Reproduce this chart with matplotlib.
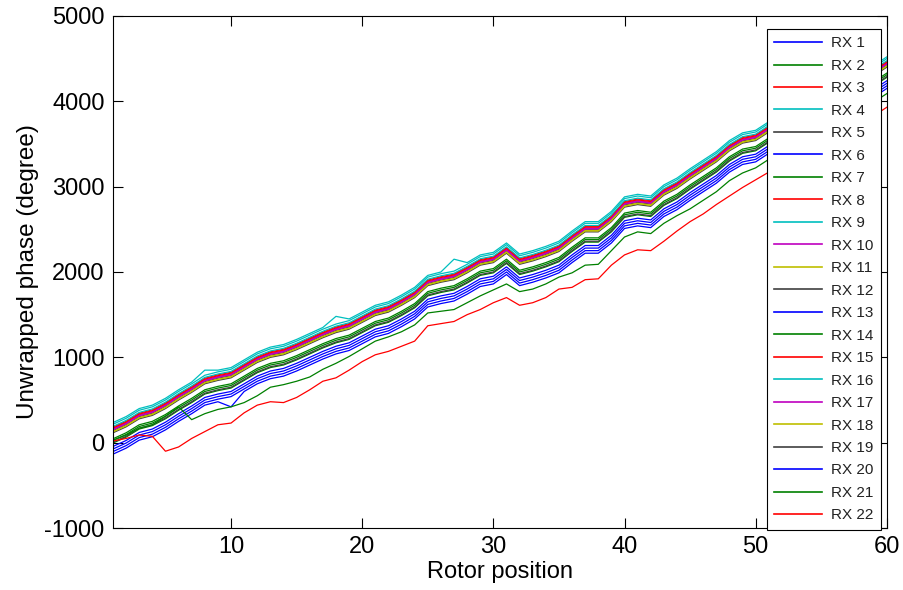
import matplotlib.pyplot as plt
import numpy as np

plt.rcParams['font.family'] = ['Liberation Sans', 'DejaVu Sans']
plt.rcParams['axes.unicode_minus'] = False

positions = np.arange(1, 61)

# upper band of the bundle (most receivers sit around it)
band = [176, 246, 340, 380, 460, 560, 650, 750, 790, 820,
        910, 1000, 1060, 1090, 1150, 1220, 1290, 1350, 1390, 1470,
        1550, 1590, 1670, 1760, 1900, 1940, 1970, 2050, 2140, 2170,
        2280, 2150, 2190, 2240, 2300, 2420, 2530, 2530, 2650, 2820,
        2850, 2830, 2960, 3040, 3150, 3250, 3350, 3480, 3570, 3600,
        3700, 3780, 3850, 3930, 4010, 4090, 4180, 4260, 4360, 4460]

# RX 21 and RX 22 run separately below the bundle
rx21 = [30, 90, 170, 210, 310, 420, 270, 340, 390, 420,
        470, 550, 650, 680, 720, 770, 860, 930, 1010, 1100,
        1190, 1240, 1300, 1380, 1520, 1540, 1560, 1640, 1720, 1790,
        1860, 1770, 1800, 1860, 1940, 1990, 2080, 2090, 2250, 2410,
        2470, 2450, 2570, 2660, 2740, 2840, 2940, 3070, 3160, 3220,
        3320, 3400, 3480, 3560, 3640, 3720, 3810, 3900, 3990, 4090]
rx22 = [20, 50, 90, 75, -100, -50, 50, 130, 210, 230,
        350, 440, 480, 470, 530, 620, 720, 760, 850, 950,
        1030, 1070, 1130, 1190, 1370, 1395, 1420, 1500, 1560, 1640,
        1700, 1610, 1640, 1700, 1800, 1820, 1910, 1920, 2080, 2200,
        2260, 2250, 2360, 2480, 2590, 2680, 2790, 2890, 2990, 3080,
        3170, 3250, 3330, 3410, 3490, 3570, 3660, 3740, 3830, 3930]

# shift of RX 1 .. RX 20 relative to the band
offsets = [-250, -130, -15, 40, -35, -310, -180, 5, 15, -25,
           -45, -60, -220, -150, -5, 60, -20, -50, -170, -280]
# (receiver, rotor position, extra shift)
bumps = [(6, 10, -90), (16, 8, 40), (16, 18, 70), (16, 27, 120)]

labels = ['RX %d' % (i + 1) for i in range(22)]

b = (0, 0, 1)
g = (0, 0.5, 0)
r = (1, 0, 0)
c = (0, 0.75, 0.75)
m = (0.75, 0, 0.75)
y = (0.75, 0.75, 0)
k = (0.25, 0.25, 0.25)
colors = [b, g, r, c, k, b, g, r, c, m, y, k, b, g, r, c, m, y, k, b, g, r]

series = []
for i, off in enumerate(offsets):
    vals = np.array(band, dtype=float) + off
    for rx, pos, d in bumps:
        if rx == i + 1:
            vals[pos - 1] += d
    series.append(vals)
series.append(np.array(rx21, dtype=float))
series.append(np.array(rx22, dtype=float))

fig = plt.figure(figsize=(9.04, 5.9), dpi=100)
ax = fig.add_axes([0.125, 0.105, 0.856, 0.868])

for vals, col, lab in zip(series, colors, labels):
    ax.plot(positions, vals, color=col, lw=0.9, label=lab)

ax.set_xlim(1, 60)
ax.set_ylim(-1000, 5000)
ax.set_xticks([10, 20, 30, 40, 50, 60])
ax.set_yticks(np.arange(-1000, 5001, 1000))
ax.tick_params(direction='in', length=7, width=0.8, top=True, right=True,
               labelsize=17, pad=6)
for s in ax.spines.values():
    s.set_linewidth(0.8)
ax.set_xlabel('Rotor position', fontsize=17, labelpad=2)
ax.set_ylabel('Unwrapped phase (degree)', fontsize=17.5, labelpad=4)

leg = ax.legend(loc='upper right', bbox_to_anchor=(0.9925, 0.975), fontsize=11,
                frameon=True, fancybox=False, framealpha=1, edgecolor='black',
                handlelength=3.1, handletextpad=0.6, labelspacing=0.555,
                borderpad=0.5, borderaxespad=0)
leg.get_frame().set_linewidth(0.8)
for t in leg.get_texts():
    t.set_color('#222222')
for h in leg.get_lines():
    h.set_linewidth(1.2)

fig.savefig('out.png', dpi=100)
